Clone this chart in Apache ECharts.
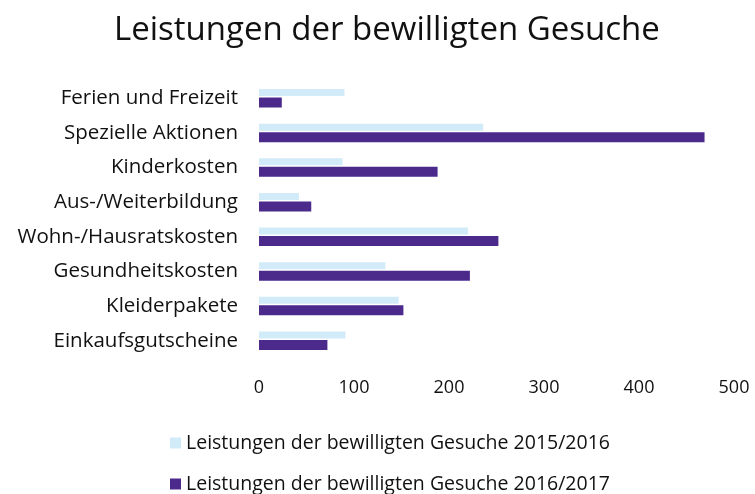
<!DOCTYPE html>
<html>
<head>
<meta charset="utf-8">
<script src="https://cdn.jsdelivr.net/npm/echarts@6/dist/echarts.min.js"></script>
<style>html,body{margin:0;padding:0;background:#fff}#c{width:755px;height:494px}</style>
</head>
<body>
<div id="c"></div>
<script>
const categories = ["Ferien und Freizeit","Spezielle Aktionen","Kinderkosten","Aus-/Weiterbildung","Wohn-/Hausratskosten","Gesundheitskosten","Kleiderpakete","Einkaufsgutscheine"];
const series1Name = "Leistungen der bewilligten Gesuche 2015/2016";
const series2Name = "Leistungen der bewilligten Gesuche 2016/2017";
const values2015 = [90, 236, 88, 42, 220, 133, 147, 91];
const values2016 = [24, 469, 188, 55, 252, 222, 152, 72];
const xTicks = [0, 100, 200, 300, 400, 500];

const FONT = "Open Sans";
const legendBase = {
  orient: 'horizontal', left: 165,
  itemWidth: 11, itemHeight: 11, icon: 'rect', itemGap: 8,
  textStyle: { fontFamily: FONT, fontSize: 19.5, color: '#111' }
};
const chart = echarts.init(document.getElementById('c'));
chart.setOption({
  backgroundColor: '#fff',
  animation: false,
  title: {
    text: 'Leistungen der bewilligten Gesuche',
    left: 109, top: 9,
    textStyle: { fontFamily: FONT, fontSize: 33, fontWeight: 'normal', color: '#111' }
  },
  legend: [
    Object.assign({}, legendBase, { top: 428, data: [series1Name] }),
    Object.assign({}, legendBase, { top: 469, data: [series2Name] })
  ],
  grid: { left: 259, right: 21, top: 81, bottom: 136, containLabel: false },
  xAxis: {
    type: 'value', min: xTicks[0], max: xTicks[xTicks.length - 1], interval: 100,
    axisLine: { show: false }, axisTick: { show: false },
    splitLine: { show: false },
    axisLabel: { fontFamily: FONT, fontSize: 18, color: '#111', margin: 21 }
  },
  yAxis: {
    type: 'category', data: categories, inverse: true,
    axisLine: { show: false }, axisTick: { show: false },
    axisLabel: { fontFamily: FONT, fontSize: 20.5, color: '#111', margin: 21 }
  },
  series: [
    { name: series1Name, type: 'bar', data: values2015, barWidth: 7, barGap: '20%',
      itemStyle: { color: '#d2ebf8' } },
    { name: series2Name, type: 'bar', data: values2016, barWidth: 10,
      itemStyle: { color: '#4b2a8c' } }
  ]
});
</script>
</body>
</html>
